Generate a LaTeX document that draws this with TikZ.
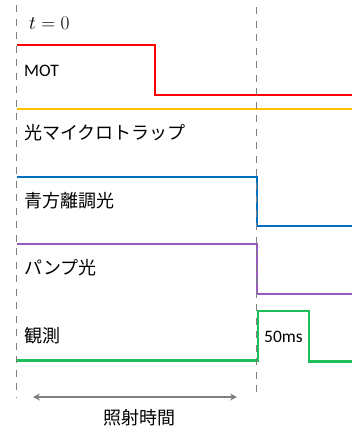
\documentclass[tikz,border=0pt]{standalone}
\usepackage[no-math]{fontspec}
\setmainfont{Carlito}
\newfontfamily\jp{Noto Sans CJK JP}
\usetikzlibrary{arrows.meta}
\definecolor{cred}{RGB}{255,0,0}
\definecolor{cyel}{RGB}{255,192,0}
\definecolor{cblue}{RGB}{0,112,192}
\definecolor{cpurp}{RGB}{150,90,190}
\definecolor{cgreen}{RGB}{30,190,90}
\definecolor{cgray}{RGB}{128,128,128}
\begin{document}
\begin{tikzpicture}[x=1pt,y=-1pt,
  sig/.style={line width=2.3pt},
  guide/.style={cgray,line width=1.8pt,dash pattern=on 7pt off 6.5pt},
  lbl/.style={anchor=base west,inner sep=0pt,font=\fontsize{17.5}{20}\selectfont},
  jlbl/.style={lbl,font=\fontsize{18}{21}\selectfont\jp}]
\useasboundingbox (0,0) rectangle (352,429);
% signals
\draw[sig,cred] (17,45) -- (155,45) -- (155,95) -- (352,95);
\draw[sig,cyel] (17,109) -- (352,109);
\draw[sig,cblue] (17,177) -- (257,177) -- (257,226) -- (352,226);
\draw[sig,cpurp] (17,244) -- (257,244) -- (257,294) -- (352,294);
\draw[sig,cgreen] (17,360.5) -- (258,360.5) -- (258,311) -- (309,311) -- (309,361.5) -- (352,361.5);
% guides
\coordinate (lt) at (16.5,5);
\coordinate (lb) at (16.5,398);
\coordinate (rt) at (256.5,7);
\coordinate (rb) at (256.5,398);
\draw[guide] (lt) -- (lb);
\draw[guide] (rt) -- (rb);
% labels
\node[lbl,font=\fontsize{17.28}{21}\selectfont,scale=1.12] (t0) at (29,29.5) {$t=0$};
\node[lbl] (mot) at (24,76) {MOT};
\node[jlbl] (trap) at (24,139) {光マイクロトラップ};
\node[jlbl] (blue) at (24,207) {青方離調光};
\node[jlbl] (pump) at (24,274) {パンプ光};
\node[jlbl] (obs) at (24,342) {観測};
\node[lbl] (ms) at (264,342.5) {50ms};
% arrow
\coordinate (al) at (33,397);
\coordinate (ar) at (237,397);
\draw[cgray,line width=2pt,{Stealth[length=7pt,width=7pt,inset=2.5pt]}-{Stealth[length=7pt,width=7pt,inset=2.5pt]}] (al) -- (ar);
\node[jlbl,anchor=base] (irr) at (139,424) {照射時間};
\end{tikzpicture}
\end{document}
